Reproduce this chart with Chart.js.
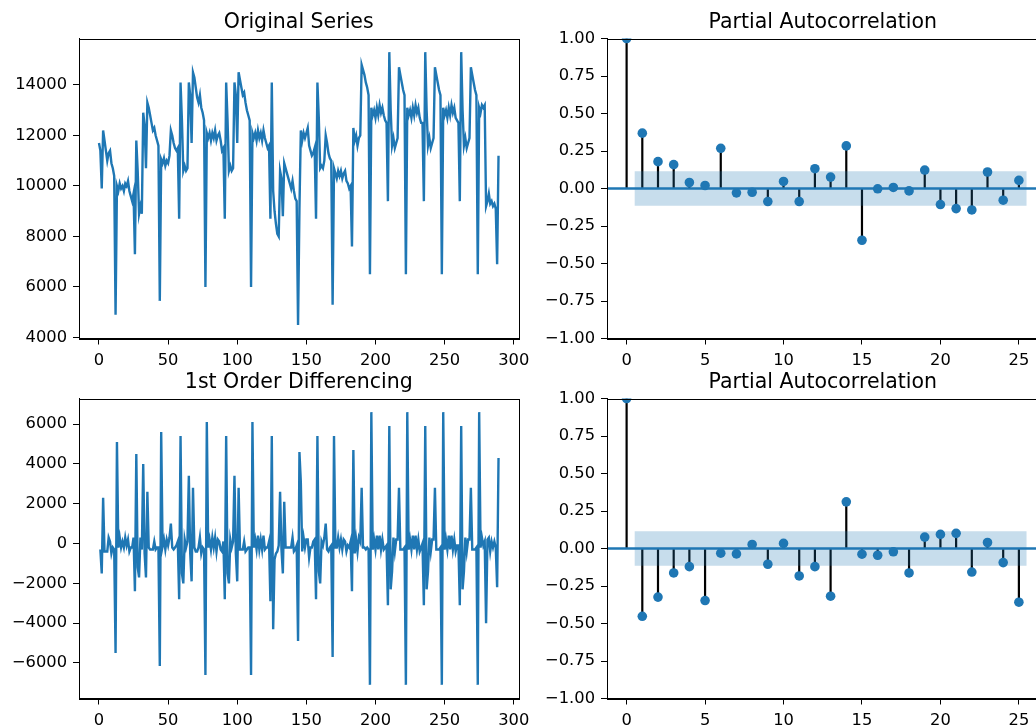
<!DOCTYPE html>
<html>
<head>
<meta charset="utf-8">
<script src="https://cdn.jsdelivr.net/npm/chart.js@4.4.0/dist/chart.umd.min.js"></script>
<style>
  html, body { margin:0; padding:0; background:#fff; width:1036px; height:728px; overflow:hidden; }
  canvas { position:absolute; }
</style>
</head>
<body>
<canvas id="cSeries" width="530" height="370" style="left:0;top:0"></canvas>
<canvas id="cPacf1"  width="520" height="370" style="left:530px;top:0"></canvas>
<canvas id="cDiff"   width="530" height="368" style="left:0;top:360px"></canvas>
<canvas id="cPacf2"  width="520" height="368" style="left:530px;top:360px"></canvas>
<script>
// ---- data ----
const series = [
  11700,11400, 9900,12200,11800,11400,11000,11300,11400,10900,
  10700,10400, 4900,10000, 9800,10100, 9900,10000, 9800,10100,
  10000,10200, 9800, 9600, 9400, 9700, 7300,11800,10600, 8900,
   9200, 8900,12900,12400,10700,13300,13100,12800,12500,12200,
  12300,12000,11800,11600, 5450,11050,10900,11100,10800,11000,
  10900,11200,12200,12000,11700,11500,11400,11500, 8700,14100,
  12600,10600,10800,10600,10700,14100,13600,11700,14500,14300,
  13900,13500,13300,13600,13100,12900,12600, 6000,12100,11900,
  12100,11800,12100,11900,12200,11800,12000,12100,11800,11400,
  11500, 8700,14100,12600,10600,10800,10600,10700,14100,13600,
  11700,14500,14200,13900,13600,13700,13300,13000,12800,12600,
   6000,12100,11900,12100,11800,12200,11900,12100,11800,12200,
  11900,11700,11500,11600, 8700,14100, 9800, 9000, 8500, 8100,
   8000,10600,10300, 8800,10900,10700,10500,10300,10100, 9900,
  10200, 9800, 9500, 9400, 4500, 9100,12200,11800,12100,11900,
  12100,12300,11600,11400,11200,11300,11500, 8700,14100,12700,
  10700,10800,10700,11000,12000,11700,11300,11100,11000, 5300,
  10700,10500,10300,10600,10400,10600,10300,10500,10600,10200,
  10100, 9900,10000, 7600,12300,11800,12000,11600,11900,12000,
  14800,14600,14400,14100,13900,13600, 6500,13100,12800,13000,
  12700,13100,12800,13200,12900,13100,12800,12600,12500, 9400,
  15300,13000,11600,11900,11500,11700,11900,14700,14400,14100,
  13800,13600, 6500,13100,12800,13000,12700,13100,12800,13200,
  12900,13100,12700,12500,12500, 9400,15300,13000,11600,11900,
  11500,11700,11900,14700,14400,14100,13800,13600, 6500,13100,
  12800,13000,12700,13100,12800,13200,12900,13100,12700,12600,
  12500, 9400,15300,13000,11600,11900,11500,11700,11900,14700,
  14400,14100,13800,13600, 6500,13100,12900,13200,13100,13200,
   9200, 9400, 9700, 9300, 9400, 9200, 9300, 9100, 6900,11200
];

const lags = [0,1,2,3,4,5,6,7,8,9,10,11,12,13,14,15,16,17,18,19,20,21,22,23,24,25];
const pacfSeries = [1.0, 0.369, 0.179, 0.159, 0.040, 0.020, 0.268, -0.029, -0.025, -0.087,
  0.047, -0.087, 0.132, 0.076, 0.284, -0.345, -0.002, 0.007, -0.016, 0.123,
  -0.107, -0.134, -0.143, 0.110, -0.078, 0.054];
const pacfDiff = [1.0, -0.452, -0.324, -0.163, -0.121, -0.347, -0.031, -0.036, 0.027, -0.105,
  0.034, -0.183, -0.121, -0.318, 0.311, -0.038, -0.045, -0.022, -0.163, 0.076,
  0.094, 0.101, -0.157, 0.040, -0.094, -0.358];

const xTicksTime = [0,50,100,150,200,250,300];
const yTicksSeries = [4000,6000,8000,10000,12000,14000];
const yTicksDiff = [-6000,-4000,-2000,0,2000,4000,6000];
const xTicksLag = [0,5,10,15,20,25];
const yTicksPacf = [-1,-0.75,-0.5,-0.25,0,0.25,0.5,0.75,1];

// ---- helpers ----
const BLUE = '#1f77b4';
const BAND = 'rgba(31,119,180,0.25)';
const TICK_FONT = { family:'"DejaVu Sans", sans-serif', size:16.3 };
Chart.defaults.font.family = '"DejaVu Sans", sans-serif';
Chart.defaults.color = '#000';

const minus = s => String(s).replace('-', '\u2212');
const fmtInt = v => minus(Math.round(v));
const fmt2 = v => minus(v.toFixed(2));

// matplotlib-style 5% margins around the data
function padRange(vals, m = 0.05){
  const lo = Math.min(...vals), hi = Math.max(...vals), r = hi - lo;
  return [lo - r*m, hi + r*m];
}

// closed box around the plot area
const framePlugin = {
  id:'frame',
  afterDraw(chart){
    const {ctx, chartArea:a} = chart;
    const l = Math.round(a.left)+0.5, t = Math.round(a.top)+0.5;
    const r = Math.round(a.right)+0.5, b = Math.round(a.bottom)+0.5;
    ctx.save();
    ctx.strokeStyle = '#000';
    ctx.lineWidth = 1;
    ctx.strokeRect(l, t, r-l, b-t);
    ctx.restore();
  }
};

// fixed axis thickness, no extra room reserved for overhanging labels
const fixX = h => s => { s.height = h; s.paddingLeft = 0; s.paddingRight = 0; };
const fixY = w => s => { s.width = w; s.paddingTop = 0; s.paddingBottom = 0; };

function axis(min, max, ticks, fmt, fixSize){
  return {
    type:'linear', min, max,
    afterBuildTicks: s => { s.ticks = ticks.map(v => ({value:v})); },
    afterFit: fixSize,
    grid:{ drawOnChartArea:false, drawTicks:true, tickLength:6, color:'#000', lineWidth:1 },
    border:{ display:true, color:'#000', width:1 },
    ticks:{ color:'#000', font:TICK_FONT, padding:6, maxRotation:0, autoSkip:false, callback: v => fmt(v) }
  };
}

function baseOptions(title, xScale, yScale, padRight){
  return {
    responsive:false,
    animation:false,
    events:[],
    devicePixelRatio:1,
    layout:{ padding:{ left:0, right:padRight, top:0, bottom:0 } },
    plugins:{
      legend:{ display:false },
      tooltip:{ enabled:false },
      title:{ display:true, text:title, color:'#000', fullSize:false,
              font:{ family:'"DejaVu Sans", sans-serif', size:20.5, weight:'normal' },
              padding:{ top:10.7, bottom:3.2 } }
    },
    scales:{ x:xScale, y:yScale }
  };
}

function lineChart(id, title, pts, xr, yTicks, xH){
  const yr = padRange(pts.map(p => p.y));
  new Chart(document.getElementById(id), {
    type:'line',
    data:{ datasets:[{ data:pts, borderColor:BLUE, borderWidth:2.4, pointRadius:0, tension:0, fill:false }] },
    options: baseOptions(title,
      axis(xr[0], xr[1], xTicksTime, fmtInt, fixX(xH)),
      axis(yr[0], yr[1], yTicks, fmtInt, fixY(79)),
      11.5),
    plugins:[framePlugin]
  });
}

function pacfChart(id, vals, n, xH){
  const conf = 1.96/Math.sqrt(n);
  const stems = [];
  lags.forEach((k,i) => { stems.push({x:k,y:0},{x:k,y:vals[i]},{x:k,y:null}); });
  const lagRange = padRange(lags);
  new Chart(document.getElementById(id), {
    type:'line',
    data:{ datasets:[
      { data:[{x:0.5,y:conf},{x:lags[lags.length-1]+0.5,y:conf}], fill:{value:-conf},
        backgroundColor:BAND, borderWidth:0, pointRadius:0, order:-1 },
      { data:lags.map((k,i)=>({x:k,y:vals[i]})), showLine:false, pointRadius:4.8,
        pointBackgroundColor:BLUE, pointBorderColor:BLUE, pointBorderWidth:0, order:0 },
      { data:[{x:lagRange[0],y:0},{x:lagRange[1],y:0}], borderColor:BLUE, borderWidth:2.4,
        pointRadius:0, order:1 },
      { data:stems, borderColor:'#000', borderWidth:2.2, pointRadius:0, spanGaps:false, order:2 }
    ]},
    options: baseOptions('Partial Autocorrelation',
      axis(lagRange[0], lagRange[1], xTicksLag, fmtInt, fixX(xH)),
      axis(-1, 1, yTicksPacf, fmt2, fixY(77)),
      11.5),
    plugins:[framePlugin]
  });
}

// ---- charts ----
const seriesPts = series.map((v,i) => ({x:i, y:v}));
const diffPts = series.slice(1).map((v,i) => ({x:i+1, y:v - series[i]}));
const timeRange = padRange(seriesPts.map(p => p.x));

lineChart('cSeries', 'Original Series', seriesPts, timeRange, yTicksSeries, 31.5);
lineChart('cDiff', '1st Order Differencing', diffPts, timeRange, yTicksDiff, 29.5);
pacfChart('cPacf1', pacfSeries, series.length, 31.5);
pacfChart('cPacf2', pacfDiff, diffPts.length, 29.5);
</script>
</body>
</html>
